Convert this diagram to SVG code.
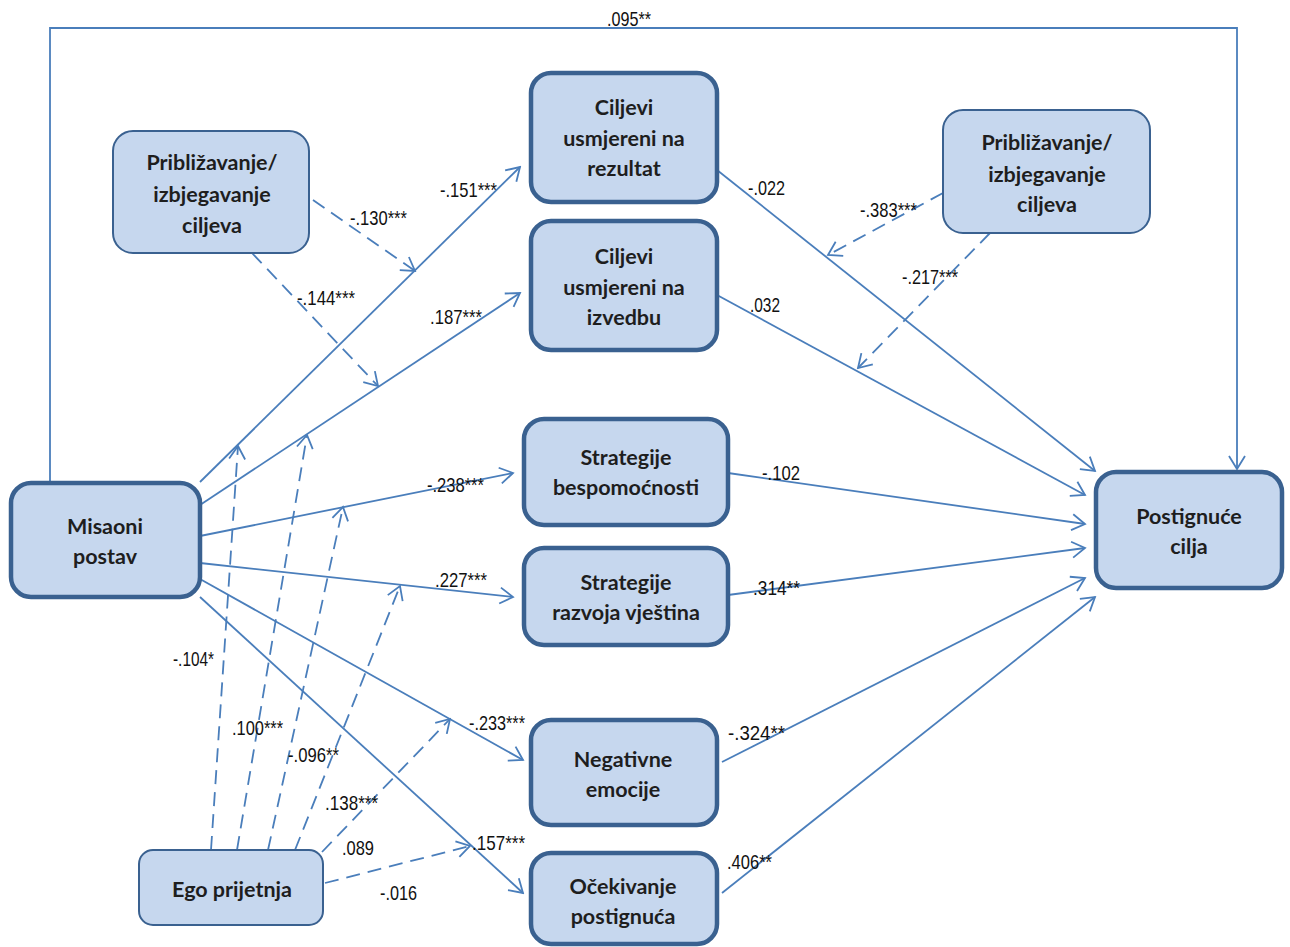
<svg xmlns="http://www.w3.org/2000/svg" width="1290" height="947" viewBox="0 0 1290 947">
<defs>
<style>
.nd{fill:#c6d7ee;stroke:#3a6190;}
.thick{stroke-width:4.5;}
.thin{stroke-width:2;}
.nt{font-family:Lato,"Open Sans","Liberation Sans",sans-serif;font-weight:bold;font-size:21.5px;fill:#1e1e1e;text-anchor:middle;}
.ln{fill:none;stroke:#4a7ebb;stroke-width:1.8;}
.ds{stroke-dasharray:14 8;}
.lb{font-family:"Liberation Sans Narrow","Liberation Sans",Arial,sans-serif;font-size:21px;fill:#111;}
</style>
<marker id="ah" viewBox="-15 -10 17 20" refX="0" refY="0" markerWidth="17" markerHeight="20" markerUnits="userSpaceOnUse" orient="auto">
<path d="M-13,-8 L0,0 L-13,8" fill="none" stroke="#4a7ebb" stroke-width="1.8" stroke-dasharray="none"/>
</marker>
</defs>
<rect width="1290" height="947" fill="#ffffff"/>

<g id="connectors">
<polyline class="ln" points="50,482 50,28 1237,28 1237,469" marker-end="url(#ah)"/>
<line class="ln" x1="200" y1="482" x2="520" y2="167" marker-end="url(#ah)"/>
<line class="ln" x1="200" y1="505" x2="520" y2="293" marker-end="url(#ah)"/>
<line class="ln" x1="200" y1="536" x2="513" y2="473" marker-end="url(#ah)"/>
<line class="ln" x1="200" y1="563" x2="513" y2="597" marker-end="url(#ah)"/>
<line class="ln" x1="200" y1="579" x2="523" y2="760" marker-end="url(#ah)"/>
<line class="ln" x1="200" y1="597" x2="523" y2="893" marker-end="url(#ah)"/>
<line class="ln" x1="717" y1="170" x2="1095" y2="471" marker-end="url(#ah)"/>
<line class="ln" x1="717" y1="295" x2="1085" y2="495" marker-end="url(#ah)"/>
<line class="ln" x1="728" y1="473" x2="1085" y2="524" marker-end="url(#ah)"/>
<line class="ln" x1="728" y1="595" x2="1085" y2="548" marker-end="url(#ah)"/>
<line class="ln" x1="722" y1="762" x2="1085" y2="578" marker-end="url(#ah)"/>
<line class="ln" x1="722" y1="893" x2="1095" y2="597" marker-end="url(#ah)"/>
<line class="ln ds" x1="313" y1="200" x2="415" y2="271" marker-end="url(#ah)"/>
<line class="ln ds" x1="252" y1="253" x2="378" y2="386" marker-end="url(#ah)"/>
<line class="ln ds" x1="943" y1="193" x2="828" y2="255" marker-end="url(#ah)"/>
<line class="ln ds" x1="990" y1="233" x2="858" y2="368" marker-end="url(#ah)"/>
<line class="ln ds" x1="211" y1="850" x2="238" y2="446" marker-end="url(#ah)"/>
<line class="ln ds" x1="237" y1="850" x2="307" y2="435" marker-end="url(#ah)"/>
<line class="ln ds" x1="268" y1="850" x2="343" y2="507" marker-end="url(#ah)"/>
<line class="ln ds" x1="295" y1="850" x2="400" y2="586" marker-end="url(#ah)"/>
<line class="ln ds" x1="322" y1="852" x2="450" y2="719" marker-end="url(#ah)"/>
<line class="ln ds" x1="325" y1="883" x2="470" y2="846" marker-end="url(#ah)"/>
</g>

<g id="labels">
<text class="lb" x="607" y="26" textLength="44" lengthAdjust="spacingAndGlyphs">.095**</text>
<text class="lb" x="440" y="197" textLength="57" lengthAdjust="spacingAndGlyphs">-.151***</text>
<text class="lb" x="430" y="324" textLength="52" lengthAdjust="spacingAndGlyphs">.187***</text>
<text class="lb" x="748" y="195" textLength="37" lengthAdjust="spacingAndGlyphs">-.022</text>
<text class="lb" x="750" y="312" textLength="30" lengthAdjust="spacingAndGlyphs">.032</text>
<text class="lb" x="860" y="217" textLength="57" lengthAdjust="spacingAndGlyphs">-.383***</text>
<text class="lb" x="902" y="284" textLength="56" lengthAdjust="spacingAndGlyphs">-.217***</text>
<text class="lb" x="350" y="225" textLength="57" lengthAdjust="spacingAndGlyphs">-.130***</text>
<text class="lb" x="297" y="305" textLength="58" lengthAdjust="spacingAndGlyphs">-.144***</text>
<text class="lb" x="427" y="492" textLength="57" lengthAdjust="spacingAndGlyphs">-.238***</text>
<text class="lb" x="435" y="587" textLength="52" lengthAdjust="spacingAndGlyphs">.227***</text>
<text class="lb" x="762" y="480" textLength="38" lengthAdjust="spacingAndGlyphs">-.102</text>
<text class="lb" x="753" y="595" textLength="47" lengthAdjust="spacingAndGlyphs">.314**</text>
<text class="lb" x="173" y="666" textLength="41" lengthAdjust="spacingAndGlyphs">-.104*</text>
<text class="lb" x="232" y="735" textLength="51" lengthAdjust="spacingAndGlyphs">.100***</text>
<text class="lb" x="288" y="762" textLength="51" lengthAdjust="spacingAndGlyphs">-.096**</text>
<text class="lb" x="325" y="810" textLength="53" lengthAdjust="spacingAndGlyphs">.138***</text>
<text class="lb" x="342" y="855" textLength="32" lengthAdjust="spacingAndGlyphs">.089</text>
<text class="lb" x="380" y="900" textLength="37" lengthAdjust="spacingAndGlyphs">-.016</text>
<text class="lb" x="469" y="730" textLength="56" lengthAdjust="spacingAndGlyphs">-.233***</text>
<text class="lb" x="472" y="850" textLength="53" lengthAdjust="spacingAndGlyphs">.157***</text>
<text class="lb" x="728" y="740" textLength="57" lengthAdjust="spacingAndGlyphs">-.324**</text>
<text class="lb" x="727" y="869" textLength="45" lengthAdjust="spacingAndGlyphs">.406**</text>
</g>

<g id="n-pribl-left">
<rect class="nd thin" x="113" y="131" width="196" height="122" rx="20"/>
<text class="nt" x="212" y="170">Približavanje/</text>
<text class="nt" x="212" y="202">izbjegavanje</text>
<text class="nt" x="212" y="233">ciljeva</text>
</g>
<g id="n-ciljevi-rezultat">
<rect class="nd thick" x="531" y="73" width="186" height="129" rx="20"/>
<text class="nt" x="624" y="115">Ciljevi</text>
<text class="nt" x="624" y="146">usmjereni na</text>
<text class="nt" x="624" y="176">rezultat</text>
</g>
<g id="n-ciljevi-izvedbu">
<rect class="nd thick" x="531" y="221" width="186" height="129" rx="20"/>
<text class="nt" x="624" y="264">Ciljevi</text>
<text class="nt" x="624" y="295">usmjereni na</text>
<text class="nt" x="624" y="325">izvedbu</text>
</g>
<g id="n-pribl-right">
<rect class="nd thin" x="943" y="110" width="207" height="123" rx="20"/>
<text class="nt" x="1047" y="150">Približavanje/</text>
<text class="nt" x="1047" y="182">izbjegavanje</text>
<text class="nt" x="1047" y="212">ciljeva</text>
</g>
<g id="n-misaoni">
<rect class="nd thick" x="11" y="483" width="189" height="114" rx="20"/>
<text class="nt" x="105" y="534">Misaoni</text>
<text class="nt" x="105" y="564">postav</text>
</g>
<g id="n-strat-besp">
<rect class="nd thick" x="524" y="419" width="204" height="106" rx="20"/>
<text class="nt" x="626" y="465">Strategije</text>
<text class="nt" x="626" y="495">bespomoćnosti</text>
</g>
<g id="n-strat-razv">
<rect class="nd thick" x="524" y="548" width="204" height="97" rx="20"/>
<text class="nt" x="626" y="590">Strategije</text>
<text class="nt" x="626" y="620">razvoja vještina</text>
</g>
<g id="n-postignuce">
<rect class="nd thick" x="1096" y="472" width="186" height="116" rx="20"/>
<text class="nt" x="1189" y="524">Postignuće</text>
<text class="nt" x="1189" y="554">cilja</text>
</g>
<g id="n-ego">
<rect class="nd thin" x="139" y="850" width="184" height="75" rx="14"/>
<text class="nt" x="232" y="897">Ego prijetnja</text>
</g>
<g id="n-negativne">
<rect class="nd thick" x="531" y="720" width="186" height="105" rx="20"/>
<text class="nt" x="623" y="767">Negativne</text>
<text class="nt" x="623" y="797">emocije</text>
</g>
<g id="n-ocekivanje">
<rect class="nd thick" x="531" y="853" width="186" height="91" rx="20"/>
<text class="nt" x="623" y="894">Očekivanje</text>
<text class="nt" x="623" y="924">postignuća</text>
</g>
</svg>
